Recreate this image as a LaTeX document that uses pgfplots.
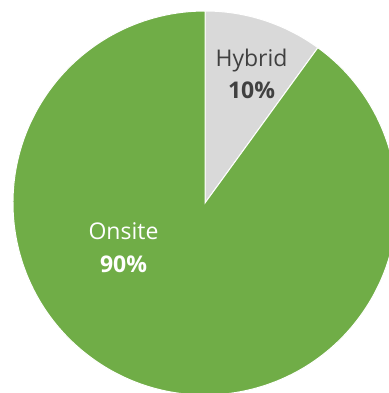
\documentclass[border=0pt]{standalone}
\usepackage{pgfplots}
\pgfplotsset{compat=1.18}
\usepackage{pgfplotstable}
\usepackage{fontspec}
\setmainfont{Open Sans}
\definecolor{pieGreen}{HTML}{70AD47}
\definecolor{pieGray}{HTML}{D9D9D9}
\definecolor{txtDark}{HTML}{404040}
\pgfplotstableread{
label value
Hybrid 10
Onsite 90
}\piedata
\begin{document}
\begin{tikzpicture}
\pgfplotstablegetelem{0}{value}\of\piedata \let\vA\pgfplotsretval
\pgfplotstablegetelem{1}{value}\of\piedata \let\vB\pgfplotsretval
\pgfmathsetmacro\angA{90-3.6*\vA}
\pgfmathsetmacro\angB{\angA-3.6*\vB}
\useasboundingbox (0,0) rectangle (389bp,393bp);
\begin{axis}[
  at={(0,0)}, anchor=south west,
  x=192bp, y=192bp,
  xmin=-1.0677, xmax=0.9583,
  ymin=-0.9896, ymax=1.0573,
  hide axis, clip=true,
]
\fill[pieGray, draw=white, line width=1bp] (axis cs:0,0) -- (axis cs:0,1) arc[start angle=90, end angle=\angA, radius=192bp] -- cycle;
\fill[pieGreen, draw=white, line width=1bp] (axis cs:0,0) -- (axis cs:{cos(\angA)},{sin(\angA)}) arc[start angle=\angA, end angle=\angB, radius=192bp] -- cycle;
\node[anchor=base, text=txtDark, font=\fontsize{23bp}{28bp}\selectfont, inner sep=0pt] at (axis cs:0.2422,0.7083) {Hybrid};
\node[anchor=base, text=txtDark, font=\fontsize{23bp}{28bp}\selectfont\bfseries, inner sep=0pt] at (axis cs:0.2422,0.5417) {10\%};
\node[anchor=base, text=white, font=\fontsize{23bp}{28bp}\selectfont, inner sep=0pt] at (axis cs:-0.4245,-0.1927) {Onsite};
\node[anchor=base, text=white, font=\fontsize{23bp}{28bp}\selectfont\bfseries, inner sep=0pt] at (axis cs:-0.4245,-0.363) {90\%};
\end{axis}
\end{tikzpicture}
\end{document}
